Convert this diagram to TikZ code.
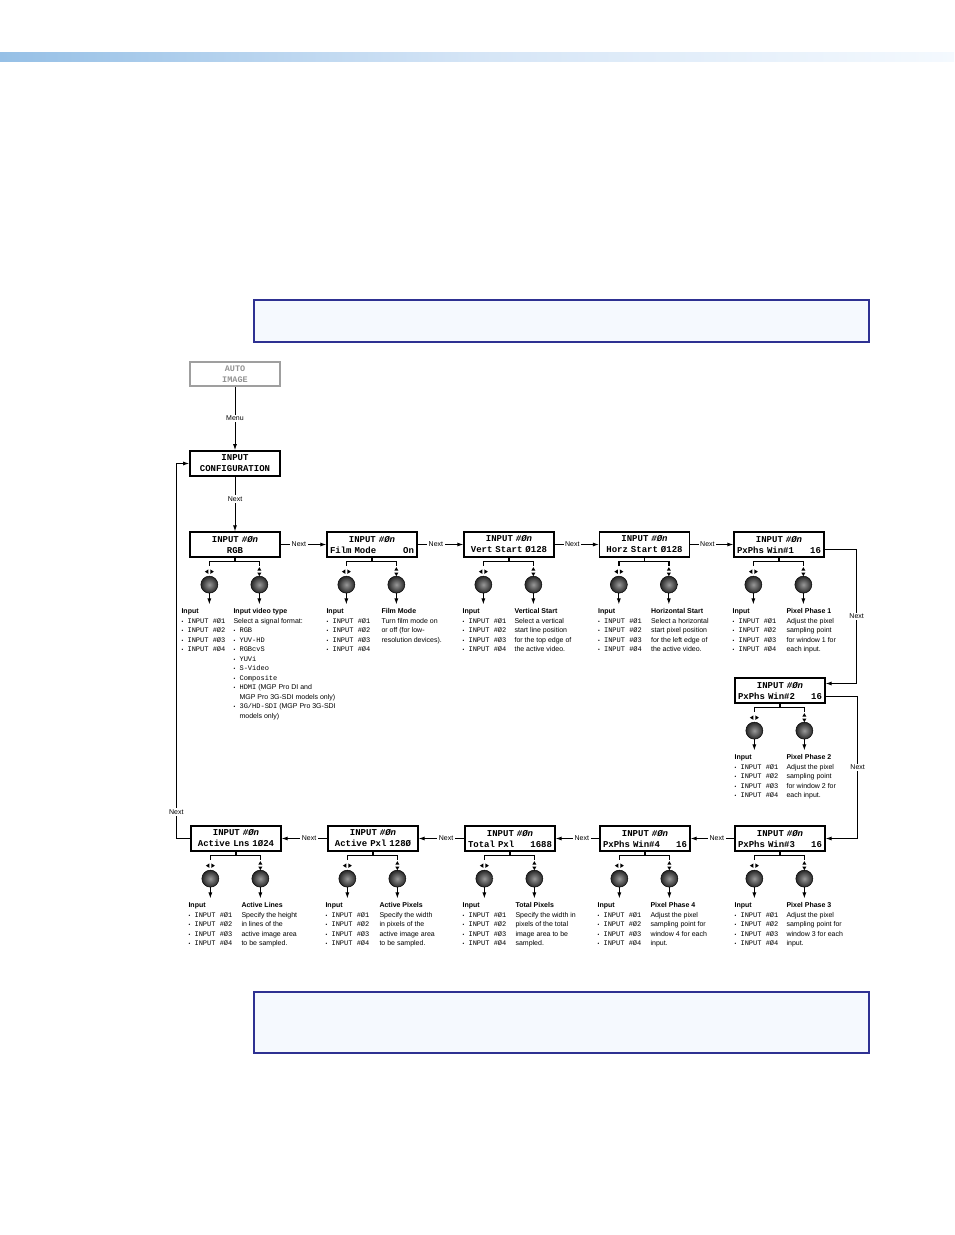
\documentclass[tikz,border=0pt]{standalone}
\usepackage{fontspec}
\setmainfont{Liberation Sans}
\setmonofont{Liberation Mono}
\usetikzlibrary{arrows.meta,calc}

\definecolor{notebd}{HTML}{2E3192}
\definecolor{notebg}{HTML}{F5F9FE}
\definecolor{barL}{HTML}{96C0E6}
\definecolor{barM}{HTML}{D5E5F6}
\definecolor{barR}{HTML}{F4F9FE}

\newcommand{\bul}{\makebox[6pt][l]{\fontsize{5}{5}\selectfont\textbullet}}
\newcommand{\inlist}{\bul\texttt{INPUT \#Ø1}\\\bul\texttt{INPUT \#Ø2}\\\bul\texttt{INPUT \#Ø3}\\\bul\texttt{INPUT \#Ø4}}

\begin{document}
\begin{tikzpicture}[x=1pt, y=-1pt,
  lcd/.style={draw, line width=1.3pt, minimum width=90pt, minimum height=25pt, inner sep=0pt,
    text width=84pt, align=center, font=\ttfamily\bfseries\fontsize{9}{11}\selectfont},
  knob/.style={circle, draw=black, line width=0.5pt, minimum size=17pt, inner sep=0pt,
    shading=radial, inner color=black!40, outer color=black!85},
  bracket/.style={line width=1.6pt},
  arr/.style={line width=0.9pt, -{Latex[length=6pt,width=4pt]}},
  lbl/.style={fill=white, inner sep=1.5pt, font=\fontsize{7}{8}\selectfont},
  txt/.style={anchor=north west, inner sep=0pt, align=left, font=\fontsize{7}{9.5}\selectfont}]
  \useasboundingbox (0,0) rectangle (954,1235);

  % Page bar and note boxes
  \shade[left color=barL, right color=barR, middle color=barM] (0,52) rectangle (954,61);
  \draw[notebd, line width=2.2pt, fill=notebg] (254,300) rectangle (869,342);
  \draw[notebd, line width=2.2pt, fill=notebg] (254,992) rectangle (869,1053);

  % Menu entry
  \node[lcd, draw=gray!75, line width=1.8pt, text=gray!85, minimum height=24pt,
    font=\ttfamily\bfseries\fontsize{8.5}{10.5}\selectfont] (auto) at (235,374) {AUTO\\IMAGE};
  \node[lcd, line width=1.8pt] (cfg) at (235,463.5) {INPUT\\CONFIGURATION};
  \draw[arr] (auto) -- node[lbl] {Menu} (cfg);

  % First row
  \node[lcd] (rgb) at (235,544.5) {INPUT \textit{\#Øn}\\RGB};
  \node[lcd] (film) at (372,544.5) {INPUT \textit{\#Øn}\\Film Mode\hfill On};
  \node[lcd] (vert) at (509,544.5) {INPUT \textit{\#Øn}\\Vert Start Ø128};
  \node[lcd] (horz) at (644.5,544.5) {INPUT \textit{\#Øn}\\Horz Start Ø128};
  \node[lcd] (win1) at (779,544.5) {INPUT \textit{\#Øn}\\PxPhs Win\#1\hfill 16};
  \draw[arr] (cfg) -- node[lbl, pos=0.4] {Next} (rgb);
  \draw[arr] (rgb) -- node[lbl, pos=0.4] {Next} (film);
  \draw[arr] (film) -- node[lbl, pos=0.4] {Next} (vert);
  \draw[arr] (vert) -- node[lbl, pos=0.4] {Next} (horz);
  \draw[arr] (horz) -- node[lbl, pos=0.4] {Next} (win1);

  % Right side
  \node[lcd] (win2) at (780,690.5) {INPUT \textit{\#Øn}\\PxPhs Win\#2\hfill 16};
  \node[lcd] (win3) at (780,838.5) {INPUT \textit{\#Øn}\\PxPhs Win\#3\hfill 16};
  \draw[arr] ($(win1.east)+(0,5)$) -- ++(32,0) |- node[lbl, pos=0.25] {Next} ($(win2.east)+(0,-7)$);
  \draw[arr] ($(win2.east)+(0,6)$) -- ++(32,0) |- node[lbl, pos=0.25] {Next} (win3.east);

  % Last row, right to left
  \node[lcd] (win4) at (645,838.5) {INPUT \textit{\#Øn}\\PxPhs Win\#4\hfill 16};
  \node[lcd] (total) at (510,838.5) {INPUT \textit{\#Øn}\\Total Pxl\hfill 1688};
  \node[lcd] (actpxl) at (373,838.5) {INPUT \textit{\#Øn}\\Active Pxl 128Ø};
  \node[lcd] (actlns) at (236,838.5) {INPUT \textit{\#Øn}\\Active Lns 1Ø24};
  \draw[arr] (win3) -- node[lbl, pos=0.4] {Next} (win4);
  \draw[arr] (win4) -- node[lbl, pos=0.4] {Next} (total);
  \draw[arr] (total) -- node[lbl, pos=0.4] {Next} (actpxl);
  \draw[arr] (actpxl) -- node[lbl, pos=0.4] {Next} (actlns);

  % Back to the top
  \coordinate (lp) at ($(actlns.west)+(-14,0)$);
  \draw[arr] (actlns.west) -- (lp) |- node[lbl, pos=0.035] {Next} (cfg.west);

  % Knobs under each screen
  \foreach \b in {rgb,film,vert,horz,win1,win2,win3,win4,total,actpxl,actlns}{
    \node[knob] (\b-k1) at ($(\b.south west)+(20,27)$) {};
    \node[knob] (\b-k2) at ($(\b.south west)+(70,27)$) {};
    \draw[bracket] (\b.south) -- ++(0,4) coordinate (\b-m);
    \draw[bracket] ($(\b-k1 |- \b-m)+(0,4)$) -- (\b-k1 |- \b-m) -- (\b-k2 |- \b-m) -- ++(0,4);
    \fill[shift={($(\b-k1)+(0,-13)$)}] (-1,-2.2) -- (-4.5,0) -- (-1,2.2) -- cycle
      (1,-2.2) -- (4.5,0) -- (1,2.2) -- cycle;
    \fill[shift={($(\b-k2)+(0,-13)$)}] (-2,-1) -- (0,-4.5) -- (2,-1) -- cycle
      (-2,1) -- (0,4.5) -- (2,1) -- cycle;
    \draw[arr] (\b-k1.south) -- ++(0,11);
    \draw[arr] (\b-k2.south) -- ++(0,11);
  }

  % Texts, first row
  \node[txt] (rgb-in) at ($(rgb.south west)+(-8,51)$) {\textbf{Input}\\\inlist};
  \node[txt] (rgb-tx) at ($(rgb.south west)+(44,51)$) {\textbf{Input video type}\\
    Select a signal format:\\
    \bul\texttt{RGB}\\
    \bul\texttt{YUV-HD}\\
    \bul\texttt{RGBcvS}\\
    \bul\texttt{YUVi}\\
    \bul\texttt{S-Video}\\
    \bul\texttt{Composite}\\
    \bul\texttt{HDMI} (MGP Pro DI and\\
    \hspace*{6pt}MGP Pro 3G-SDI models only)\\
    \bul\texttt{3G/HD-SDI} (MGP Pro 3G-SDI\\
    \hspace*{6pt}models only)};
  \node[txt] (film-in) at ($(film.south west)+(0,51)$) {\textbf{Input}\\\inlist};
  \node[txt] (film-tx) at ($(film.south west)+(55,51)$) {\textbf{Film Mode}\\
    Turn film mode on\\or off (for low-\\resolution devices).};
  \node[txt] (vert-in) at ($(vert.south west)+(-1,51)$) {\textbf{Input}\\\inlist};
  \node[txt] (vert-tx) at ($(vert.south west)+(51,51)$) {\textbf{Vertical Start}\\
    Select a vertical\\start line position\\for the top edge of\\the active video.};
  \node[txt] (horz-in) at ($(horz.south west)+(-1,51)$) {\textbf{Input}\\\inlist};
  \node[txt] (horz-tx) at ($(horz.south west)+(52,51)$) {\textbf{Horizontal Start}\\
    Select a horizontal\\start pixel position\\for the left edge of\\the active video.};
  \node[txt] (win1-in) at ($(win1.south west)+(-1,51)$) {\textbf{Input}\\\inlist};
  \node[txt] (win1-tx) at ($(win1.south west)+(53,51)$) {\textbf{Pixel Phase 1}\\
    Adjust the pixel\\sampling point\\for window 1 for\\each input.};

  % Texts, right side and last row
  \node[txt] (win2-in) at ($(win2.south west)+(0,51)$) {\textbf{Input}\\\inlist};
  \node[txt] (win2-tx) at ($(win2.south west)+(52,51)$) {\textbf{Pixel Phase 2}\\
    Adjust the pixel\\sampling point\\for window 2 for\\each input.};
  \node[txt] (win3-in) at ($(win3.south west)+(0,51)$) {\textbf{Input}\\\inlist};
  \node[txt] (win3-tx) at ($(win3.south west)+(52,51)$) {\textbf{Pixel Phase 3}\\
    Adjust the pixel\\sampling point for\\window 3 for each\\input.};
  \node[txt] (win4-in) at ($(win4.south west)+(-2,51)$) {\textbf{Input}\\\inlist};
  \node[txt] (win4-tx) at ($(win4.south west)+(51,51)$) {\textbf{Pixel Phase 4}\\
    Adjust the pixel\\sampling point for\\window 4 for each\\input.};
  \node[txt] (total-in) at ($(total.south west)+(-2,51)$) {\textbf{Input}\\\inlist};
  \node[txt] (total-tx) at ($(total.south west)+(51,51)$) {\textbf{Total Pixels}\\
    Specify the width in\\pixels of the total\\image area to be\\sampled.};
  \node[txt] (actpxl-in) at ($(actpxl.south west)+(-2,51)$) {\textbf{Input}\\\inlist};
  \node[txt] (actpxl-tx) at ($(actpxl.south west)+(52,51)$) {\textbf{Active Pixels}\\
    Specify the width\\in pixels of the\\active image area\\to be sampled.};
  \node[txt] (actlns-in) at ($(actlns.south west)+(-2,51)$) {\textbf{Input}\\\inlist};
  \node[txt] (actlns-tx) at ($(actlns.south west)+(51,51)$) {\textbf{Active Lines}\\
    Specify the height\\in lines of the\\active image area\\to be sampled.};
\end{tikzpicture}
\end{document}
